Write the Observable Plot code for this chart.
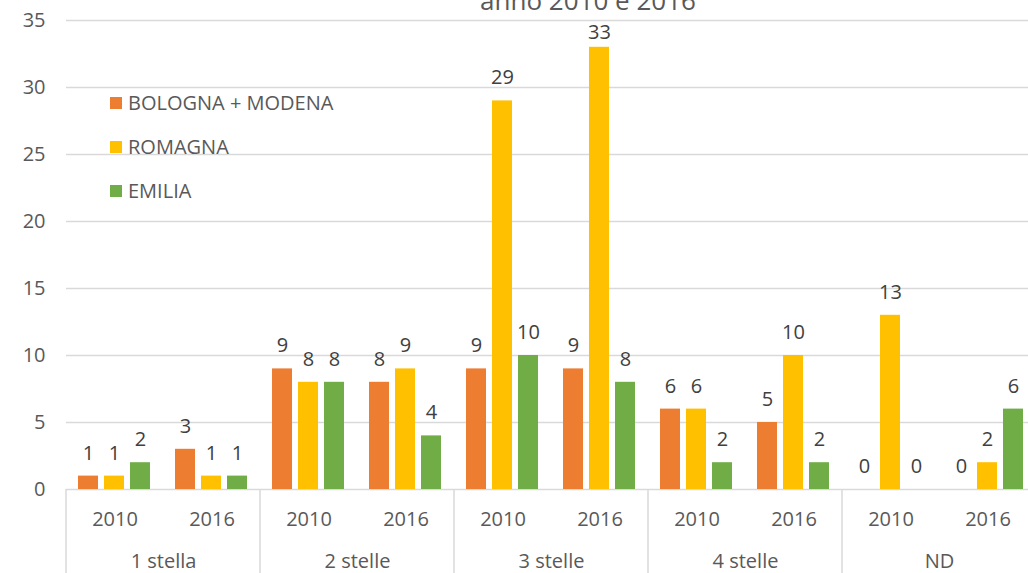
<!DOCTYPE html>
<html>
<head>
<meta charset="utf-8">
<script src="https://cdn.jsdelivr.net/npm/d3@7"></script>
<script src="https://cdn.jsdelivr.net/npm/@observablehq/plot@0.6"></script>
<style>
html, body { margin: 0; padding: 0; overflow: hidden; background: #fff; }
#wrap { position: relative; width: 1028px; height: 573px; overflow: hidden; font-family: "Open Sans", sans-serif; }
#chart { position: absolute; left: 0; top: 0; width: 1050px; }
#chart svg { max-width: none !important; }
#title { position: absolute; left: 0; width: 1176px; text-align: center; top: -12px; line-height: 24px; font-size: 26px; color: #595959; white-space: nowrap; }
#legend { position: absolute; left: 110px; top: 0; }
.item { position: absolute; left: 0; display: flex; align-items: center; white-space: nowrap; font-size: 20px; line-height: 24px; color: #595959; }
.sw { width: 12px; height: 12px; margin-right: 6px; }
</style>
</head>
<body>
<div id="wrap">
  <div id="chart"></div>
  <div id="title">anno 2010 e 2016</div>
  <div id="legend"></div>
</div>
<script>
// ---- data ----
const categories = ["1 stella", "2 stelle", "3 stelle", "4 stelle", "ND"];
const years = ["2010", "2016"];
const seriesNames = ["BOLOGNA + MODENA", "ROMAGNA", "EMILIA"];
const seriesColors = ["#ED7D31", "#FFC000", "#70AD47"];
// values per (category, year): 1s-2010, 1s-2016, 2s-2010, 2s-2016, ...
const bolognaModena = [1, 3, 9, 8, 9, 9, 6, 5, 0, 0];
const romagna       = [1, 1, 8, 9, 29, 33, 6, 10, 13, 2];
const emilia        = [2, 1, 8, 4, 10, 8, 2, 2, 0, 6];
const yTicks = [0, 5, 10, 15, 20, 25, 30, 35];

// ---- build table ----
const subKeys = categories.flatMap(c => years.map(y => c + "|" + y));
const seriesValues = [bolognaModena, romagna, emilia];
const data = subKeys.flatMap((k, i) =>
  seriesNames.map((s, j) => ({ key: k, series: s, value: seriesValues[j][i] })));
const yMax = 35;
const nearTop = d => d.value > yMax - 3;

const W = 1050, H = 573;
const chart = Plot.plot({
  width: W,
  height: H,
  marginLeft: 63,
  marginRight: W - 1038,
  marginTop: 20,
  marginBottom: 84,
  style: { fontFamily: '"Open Sans", sans-serif', fontSize: "20px", color: "#595959", background: "white", overflow: "visible", maxWidth: "none" },
  fx: { domain: subKeys, padding: 0, label: null, axis: "bottom", tickSize: 0, tickPadding: 22, tickFormat: d => d.split("|")[1] },
  x: { domain: seriesNames, paddingInner: 0.22, paddingOuter: 0.41, axis: null },
  y: { domain: [0, yMax], ticks: yTicks, tickSize: 0, tickPadding: 21, label: null },
  color: { domain: seriesNames, range: seriesColors },
  marks: [
    Plot.ruleY(yTicks, { stroke: "#d9d9d9", strokeWidth: 1.5 }),
    Plot.barY(data, { fx: "key", x: "series", y: "value", fill: "series" }),
    Plot.text(data.filter(d => !nearTop(d)), { fx: "key", x: "series", y: "value", text: d => String(d.value), dy: -23, fill: "#404040" }),
    Plot.text(data.filter(nearTop), { fx: "key", x: "series", y: "value", text: d => String(d.value), dy: -15, fill: "#404040" }),
    Plot.text(categories, { fx: c => c + "|2010", frameAnchor: "bottom-right", textAnchor: "middle", text: d => d, dy: 78, fill: "#595959" })
  ]
});
chart.style.maxWidth = "none";
chart.setAttribute("width", W);
chart.setAttribute("height", H);
document.getElementById("chart").appendChild(chart);

// group separators on the category axis, from the library's fx and y scales
const fxs = chart.scale("fx");
const ys = chart.scale("y");
const bw = fxs.bandwidth;
const sepX = categories.map(c => fxs.apply(c + "|2010")).concat([fxs.apply(subKeys[subKeys.length - 1]) + bw]);
d3.select(chart).append("g")
  .selectAll("line").data(sepX).join("line")
  .attr("x1", d => d).attr("x2", d => d)
  .attr("y1", ys.apply(0)).attr("y2", H)
  .attr("stroke", "#d9d9d9").attr("stroke-width", 1.5);

// legend
const legend = document.getElementById("legend");
const legendTops = [91, 135, 179];
seriesNames.forEach((s, i) => {
  const it = document.createElement("div");
  it.className = "item";
  it.style.top = legendTops[i] + "px";
  it.innerHTML = `<span class="sw" style="background:${seriesColors[i]}"></span><span>${s}</span>`;
  legend.appendChild(it);
});
</script>
</body>
</html>
